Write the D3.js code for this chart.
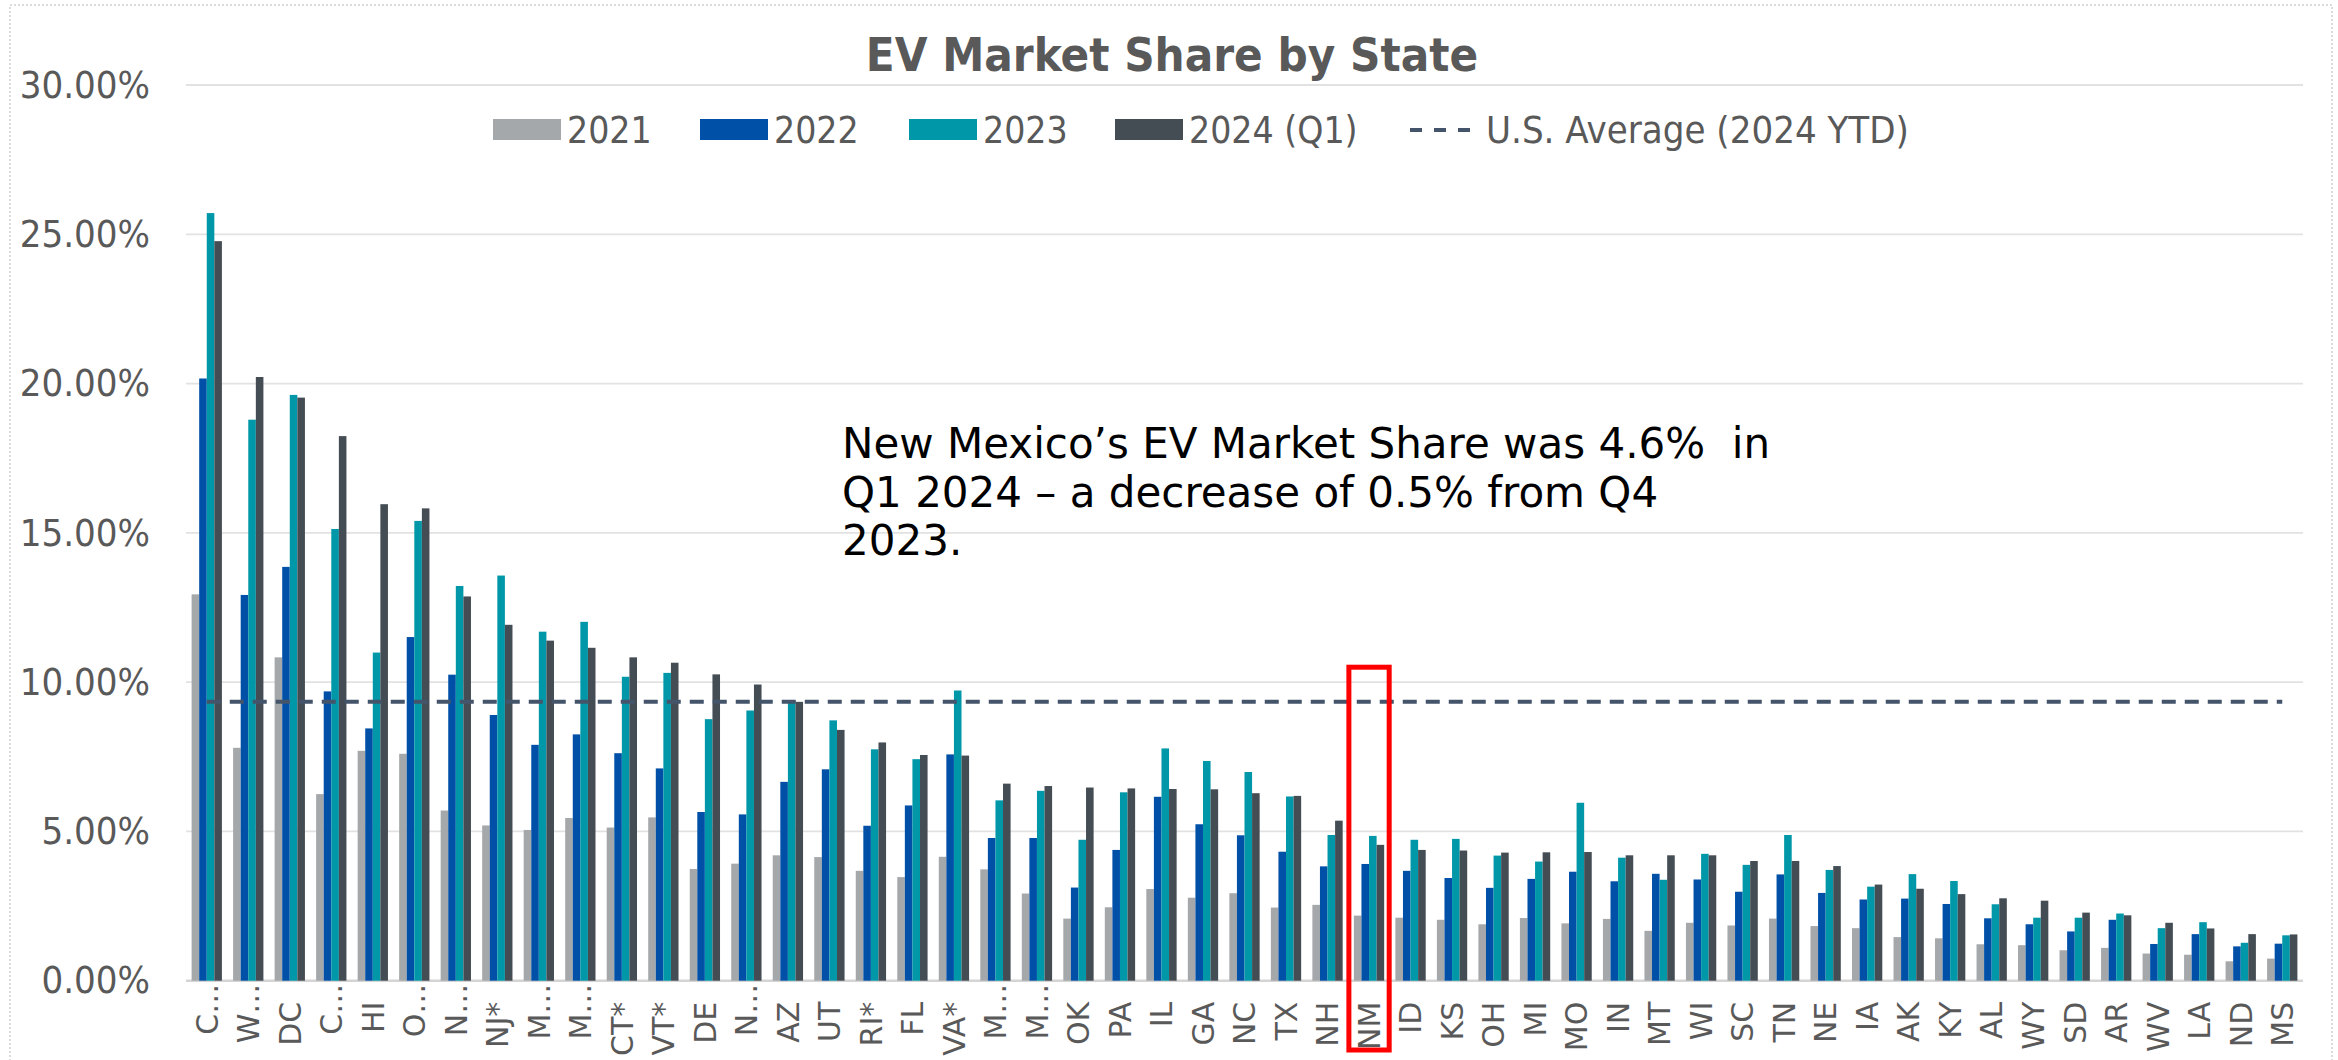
<!DOCTYPE html>
<html>
<head>
<meta charset="utf-8">
<script src="https://cdn.jsdelivr.net/npm/d3@7"></script>
<style>
body { margin: 0; background: #fff; }
svg text { font-family: "DejaVu Sans Condensed", "DejaVu Sans", sans-serif; font-stretch: condensed; }
</style>
</head>
<body>
<svg id="chart" width="2338" height="1060"></svg>
<script>
'use strict';

var states = ['C…', 'W…', 'DC', 'C…', 'HI', 'O…', 'N…', 'NJ*', 'M…', 'M…', 'CT*', 'VT*', 'DE', 'N…', 'AZ', 'UT', 'RI*', 'FL', 'VA*', 'M…', 'M…',
    'OK', 'PA', 'IL', 'GA', 'NC', 'TX', 'NH', 'NM', 'ID', 'KS', 'OH', 'MI', 'MO', 'IN', 'MT', 'WI', 'SC', 'TN', 'NE', 'IA', 'AK', 'KY',
    'AL', 'WY', 'SD', 'AR', 'WV', 'LA', 'ND', 'MS'];

// market share in percent
var share2021 = [12.94, 7.8, 10.83, 6.25, 7.7, 7.6, 5.7, 5.2, 5.05, 5.45, 5.13, 5.47, 3.74, 3.92, 4.20, 4.14, 3.68, 3.47, 4.15, 3.73, 2.92,
    2.08, 2.46, 3.07, 2.78, 2.93, 2.45, 2.54, 2.18, 2.11, 2.04, 1.89, 2.10, 1.92, 2.07, 1.67, 1.94, 1.85, 2.08, 1.83, 1.76, 1.46, 1.42,
    1.22, 1.19, 1.02, 1.10, 0.91, 0.87, 0.65, 0.74];
var share2022 = [20.17, 12.92, 13.86, 9.69, 8.45, 11.51, 10.25, 8.9, 7.9, 8.25, 7.62, 7.11, 5.65, 5.57, 6.66, 7.08, 5.19, 5.87, 7.58, 4.78, 4.78,
    3.12, 4.38, 6.16, 5.24, 4.87, 4.32, 3.83, 3.91, 3.68, 3.44, 3.11, 3.41, 3.65, 3.33, 3.58, 3.39, 2.98, 3.56, 2.94, 2.72, 2.75, 2.57,
    2.09, 1.89, 1.65, 2.04, 1.23, 1.56, 1.15, 1.24];
var share2023 = [25.71, 18.79, 19.62, 15.13, 10.99, 15.4, 13.22, 13.57, 11.69, 12.02, 10.18, 10.31, 8.76, 9.05, 9.37, 8.72, 7.75, 7.42, 9.72, 6.04, 6.36,
    4.72, 6.31, 7.78, 7.36, 6.99, 6.17, 4.88, 4.85, 4.72, 4.75, 4.19, 3.99, 5.96, 4.12, 3.38, 4.25, 3.88, 4.88, 3.71, 3.15, 3.57, 3.34,
    2.56, 2.11, 2.11, 2.25, 1.76, 1.96, 1.27, 1.52];
var share2024 = [24.77, 20.22, 19.53, 18.24, 15.96, 15.82, 12.87, 11.92, 11.39, 11.15, 10.83, 10.65, 10.26, 9.92, 9.34, 8.40, 7.98, 7.56, 7.54, 6.60, 6.52,
    6.47, 6.44, 6.42, 6.41, 6.28, 6.19, 5.36, 4.55, 4.38, 4.36, 4.29, 4.30, 4.31, 4.20, 4.20, 4.20, 4.01, 4.01, 3.84, 3.22, 3.08, 2.90,
    2.76, 2.68, 2.28, 2.19, 1.94, 1.75, 1.56, 1.55];
var usAverage = 9.34;

var seriesNames = ['2021', '2022', '2023', '2024 (Q1)'];
var averageName = 'U.S. Average (2024 YTD)';
var yTicks = [0, 5, 10, 15, 20, 25, 30];
var highlightState = 'NM';
var noteLines = ['New Mexico’s EV Market Share was 4.6%  in', 'Q1 2024 – a decrease of 0.5% from Q4', '2023.'];

var COLORS = ['#a5a8aa', '#0050a8', '#0098a8', '#444c54'];
var AVG_COLOR = '#44546a';
var TEXT = '#595959';
var LEGEND_X = [493, 700, 909, 1115, 1410];

var svg = d3.select('#chart');
var series = [share2021, share2022, share2023, share2024];

var x = d3.scaleBand()
    .domain(d3.range(states.length))
    .range([186, 2303])
    .paddingInner(0.27)
    .paddingOuter(0.135);

var xs = d3.scaleBand()
    .domain(d3.range(series.length))
    .range([0, x.bandwidth()]);

var y = d3.scaleLinear().domain([0, 30]).range([980.7, 85]);

// outer dotted frame
svg.append('rect')
    .attr('x', 10).attr('y', 5)
    .attr('width', 2322).attr('height', 1080)
    .attr('fill', 'none')
    .attr('stroke', '#d0d0d0')
    .attr('stroke-width', 1.5)
    .attr('stroke-dasharray', '2,2');

// gridlines
svg.append('g')
    .selectAll('line')
    .data(yTicks)
    .join('line')
    .attr('x1', 186).attr('x2', 2303)
    .attr('y1', function(d) { return y(d); })
    .attr('y2', function(d) { return y(d); })
    .attr('stroke', d => d === 0 ? '#d4d4d4' : '#e2e2e2')
    .attr('stroke-width', d => d === 0 ? 2.5 : 1.8);

// y axis labels
var yAxis = svg.append('g')
    .attr('transform', 'translate(186,0)')
    .call(d3.axisLeft(y).tickValues(yTicks).tickSize(0).tickPadding(36)
        .tickFormat(function(d) { return d.toFixed(2) + '%'; }));
yAxis.select('.domain').remove();
yAxis.selectAll('text')
    .attr('fill', TEXT)
    .style('font-size', '38px');

// bars
var groups = svg.append('g')
    .selectAll('g')
    .data(states)
    .join('g')
    .attr('transform', function(d, i) { return 'translate(' + x(i) + ',0)'; });

groups.selectAll('rect')
    .data(function(d, i) { return series.map(function(s, k) { return { k: k, v: s[i] }; }); })
    .join('rect')
    .attr('x', function(d) { return xs(d.k); })
    .attr('width', xs.bandwidth())
    .attr('y', function(d) { return y(d.v); })
    .attr('height', function(d) { return y(0) - y(d.v); })
    .attr('fill', function(d) { return COLORS[d.k]; });

// x axis labels (truncated names sit closer to the axis, as in the source)
var xAxis = svg.append('g')
    .attr('transform', 'translate(0,' + y(0) + ')')
    .call(d3.axisBottom(x).tickSize(0).tickFormat(function(i) { return states[i]; }));
xAxis.select('.domain').remove();
xAxis.selectAll('text')
    .attr('transform', 'rotate(-90)')
    .attr('x', function(i) { return states[i].slice(-1) === '…' ? -3 : -21; })
    .attr('y', 0)
    .attr('dy', '0.36em')
    .attr('text-anchor', 'end')
    .attr('fill', TEXT)
    .style('font-size', '30px')
    .style('font-stretch', 'normal')
    .style('font-family', '"DejaVu Sans", sans-serif');

// U.S. average line
var avgLine = d3.line()
    .x(function(d, i) { return x(i) + x.bandwidth() / 2; })
    .y(function() { return y(usAverage); });
svg.append('path')
    .datum(states)
    .attr('d', avgLine)
    .attr('fill', 'none')
    .attr('stroke', AVG_COLOR)
    .attr('stroke-width', 4)
    .attr('stroke-dasharray', '14,9');

// highlight box
var hi = states.indexOf(highlightState);
svg.append('rect')
    .attr('x', x(hi) - 5)
    .attr('y', y(10.5))
    .attr('width', x.bandwidth() + 10)
    .attr('height', 1050 - y(10.5))
    .attr('fill', 'none')
    .attr('stroke', '#ff0000')
    .attr('stroke-width', 5);

// title
svg.append('text')
    .attr('x', 1172).attr('y', 71)
    .attr('text-anchor', 'middle')
    .attr('fill', TEXT)
    .style('font-size', '47px')
    .style('font-weight', 'bold')
    .text('EV Market Share by State');

// legend
var legend = svg.append('g');
seriesNames.forEach(function(name, k) {
    legend.append('rect')
        .attr('x', LEGEND_X[k]).attr('y', 119)
        .attr('width', 68).attr('height', 21)
        .attr('fill', COLORS[k]);
    legend.append('text')
        .attr('x', LEGEND_X[k] + 74).attr('y', 130)
        .attr('dy', '0.35em')
        .attr('fill', TEXT)
        .style('font-size', '37px')
        .text(name);
});
var ax = LEGEND_X[seriesNames.length];
legend.append('line')
    .attr('x1', ax).attr('x2', ax + 60)
    .attr('y1', 130).attr('y2', 130)
    .attr('stroke', AVG_COLOR)
    .attr('stroke-width', 4)
    .attr('stroke-dasharray', '12,12');
legend.append('text')
    .attr('x', ax + 76).attr('y', 130)
    .attr('dy', '0.35em')
    .attr('fill', TEXT)
    .style('font-size', '38px')
    .text(averageName);

// annotation
svg.append('text')
    .attr('fill', '#000')
    .style('font-size', '42px')
    .style('font-stretch', 'normal')
    .style('font-family', '"DejaVu Sans", sans-serif')
    .style('white-space', 'pre')
    .selectAll('tspan')
    .data(noteLines)
    .join('tspan')
    .attr('x', 842)
    .attr('y', function(d, i) { return 458 + i * 48.5; })
    .text(function(d) { return d; });
</script>
</body>
</html>
